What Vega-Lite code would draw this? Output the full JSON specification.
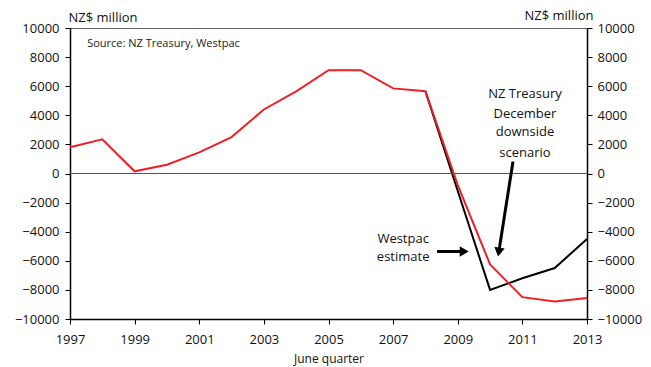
{
  "$schema": "https://vega.github.io/schema/vega-lite/v6.json",
  "autosize": "none",
  "width": 517,
  "height": 291,
  "padding": {"left": 70, "top": 28, "right": 64, "bottom": 48},
  "background": "white",
  "config": {
    "font": "Open Sans",
    "view": {"stroke": "#666666", "strokeWidth": 1},
    "axis": {
      "labelFont": "Open Sans",
      "titleFont": "Open Sans",
      "labelFontSize": 13,
      "titleFontSize": 13,
      "labelColor": "#111111",
      "titleColor": "#111111",
      "titleFontWeight": "normal",
      "domainColor": "#000000",
      "domainWidth": 1.5,
      "tickColor": "#000000",
      "tickWidth": 1,
      "tickSize": 5,
      "grid": false,
      "labelFlush": false,
      "labelOverlap": false
    }
  },
  "datasets": {
    "series": [
      {"year": 1997, "value": 1800, "series": "Treasury"},
      {"year": 1998, "value": 2350, "series": "Treasury"},
      {"year": 1999, "value": 150, "series": "Treasury"},
      {"year": 2000, "value": 600, "series": "Treasury"},
      {"year": 2001, "value": 1450, "series": "Treasury"},
      {"year": 2002, "value": 2500, "series": "Treasury"},
      {"year": 2003, "value": 4400, "series": "Treasury"},
      {"year": 2004, "value": 5650, "series": "Treasury"},
      {"year": 2005, "value": 7100, "series": "Treasury"},
      {"year": 2006, "value": 7100, "series": "Treasury"},
      {"year": 2007, "value": 5850, "series": "Treasury"},
      {"year": 2008, "value": 5650, "series": "Treasury"},
      {"year": 2009, "value": -800, "series": "Treasury"},
      {"year": 2010, "value": -6250, "series": "Treasury"},
      {"year": 2011, "value": -8500, "series": "Treasury"},
      {"year": 2012, "value": -8800, "series": "Treasury"},
      {"year": 2013, "value": -8550, "series": "Treasury"},
      {"year": 2008, "value": 5650, "series": "Westpac"},
      {"year": 2009, "value": -1200, "series": "Westpac"},
      {"year": 2010, "value": -8000, "series": "Westpac"},
      {"year": 2011, "value": -7200, "series": "Westpac"},
      {"year": 2012, "value": -6500, "series": "Westpac"},
      {"year": 2013, "value": -4500, "series": "Westpac"}
    ],
    "labels": [
      {"year": 1997.53, "value": 8930, "label": "Source: NZ Treasury, Westpac", "kind": "source"},
      {"year": 2011.08, "value": 5430, "label": "NZ Treasury", "kind": "note"},
      {"year": 2011.08, "value": 4120, "label": "December", "kind": "note"},
      {"year": 2011.08, "value": 2820, "label": "downside", "kind": "note"},
      {"year": 2011.08, "value": 1440, "label": "scenario", "kind": "note"},
      {"year": 2007.31, "value": -4530, "label": "Westpac", "kind": "note"},
      {"year": 2007.31, "value": -5770, "label": "estimate", "kind": "note"}
    ],
    "arrows": [
      {"x": 2008.36, "y": -5360, "x2": 2009.2, "y2": -5360, "dir": "right"},
      {"x": 2010.71, "y": 824, "x2": 2010.27, "y2": -5400, "dir": "down"}
    ],
    "zero": [{"value": 0}]
  },
  "layer": [
    {
      "data": {"name": "series"},
      "transform": [{"filter": "datum.series == 'Westpac'"}],
      "mark": {"type": "line", "color": "#000000", "strokeWidth": 2},
      "encoding": {
        "x": {
          "field": "year", "type": "quantitative",
          "scale": {"domain": [1997, 2013], "nice": false, "zero": false},
          "axis": {
            "title": "June quarter",
            "titleFontSize": 12,
            "titlePadding": 7,
            "values": [1997,1998,1999,2000,2001,2002,2003,2004,2005,2006,2007,2008,2009,2010,2011,2012,2013],
            "labelExpr": "datum.value % 2 == 1 ? format(datum.value, 'd') : ''",
            "labelPadding": 9
          }
        },
        "y": {
          "field": "value", "type": "quantitative",
          "scale": {"domain": [-10000, 10000], "nice": false},
          "axis": {
            "title": "NZ$ million",
            "titleAngle": 0,
            "titleAlign": "left",
            "titleBaseline": "middle",
            "titleX": -2,
            "titleY": -11,
            "values": [-10000,-8000,-6000,-4000,-2000,0,2000,4000,6000,8000,10000],
            "format": "d",
            "labelPadding": 6
          }
        }
      }
    },
    {
      "data": {"name": "zero"},
      "mark": {"type": "rule", "color": "#555555", "strokeWidth": 1},
      "encoding": {
        "y": {"field": "value", "type": "quantitative", "axis": null}
      }
    },
    {
      "data": {"name": "series"},
      "transform": [{"filter": "datum.series == 'Treasury'"}],
      "mark": {"type": "line", "color": "#ee2027", "strokeWidth": 2},
      "encoding": {
        "x": {"field": "year", "type": "quantitative"},
        "y": {
          "field": "value", "type": "quantitative",
          "axis": {
            "orient": "right",
            "title": "NZ$ million",
            "titleAngle": 0,
            "titleAlign": "right",
            "titleBaseline": "middle",
            "titleX": 6,
            "titleY": -13,
            "values": [-10000,-8000,-6000,-4000,-2000,0,2000,4000,6000,8000,10000],
            "format": "d",
            "labelPadding": 5
          }
        }
      }
    },
    {
      "data": {"name": "labels"},
      "transform": [{"filter": "datum.kind == 'source'"}],
      "mark": {"type": "text", "align": "left", "baseline": "middle", "fontSize": 11, "color": "#222222", "font": "Open Sans"},
      "encoding": {
        "x": {"field": "year", "type": "quantitative"},
        "y": {"field": "value", "type": "quantitative", "axis": null},
        "text": {"field": "label"}
      }
    },
    {
      "data": {"name": "labels"},
      "transform": [{"filter": "datum.kind == 'note'"}],
      "mark": {"type": "text", "align": "center", "baseline": "middle", "fontSize": 13, "color": "#111111", "font": "Open Sans"},
      "encoding": {
        "x": {"field": "year", "type": "quantitative"},
        "y": {"field": "value", "type": "quantitative", "axis": null},
        "text": {"field": "label"}
      }
    },
    {
      "data": {"name": "arrows"},
      "mark": {"type": "rule", "color": "#000000", "strokeWidth": 3},
      "encoding": {
        "x": {"field": "x", "type": "quantitative"},
        "y": {"field": "y", "type": "quantitative", "axis": null},
        "x2": {"field": "x2"},
        "y2": {"field": "y2"}
      }
    },
    {
      "data": {"name": "arrows"},
      "transform": [{"filter": "datum.dir == 'right'"}],
      "mark": {"type": "point", "shape": "triangle-right", "filled": true, "color": "#000000", "size": 110, "opacity": 1},
      "encoding": {
        "x": {"field": "x2", "type": "quantitative"},
        "y": {"field": "y2", "type": "quantitative", "axis": null}
      }
    },
    {
      "data": {"name": "arrows"},
      "transform": [{"filter": "datum.dir == 'down'"}],
      "mark": {"type": "point", "shape": "triangle-down", "angle": 9, "filled": true, "color": "#000000", "size": 110, "opacity": 1},
      "encoding": {
        "x": {"field": "x2", "type": "quantitative"},
        "y": {"field": "y2", "type": "quantitative", "axis": null}
      }
    }
  ],
  "resolve": {"axis": {"y": "independent"}}
}
